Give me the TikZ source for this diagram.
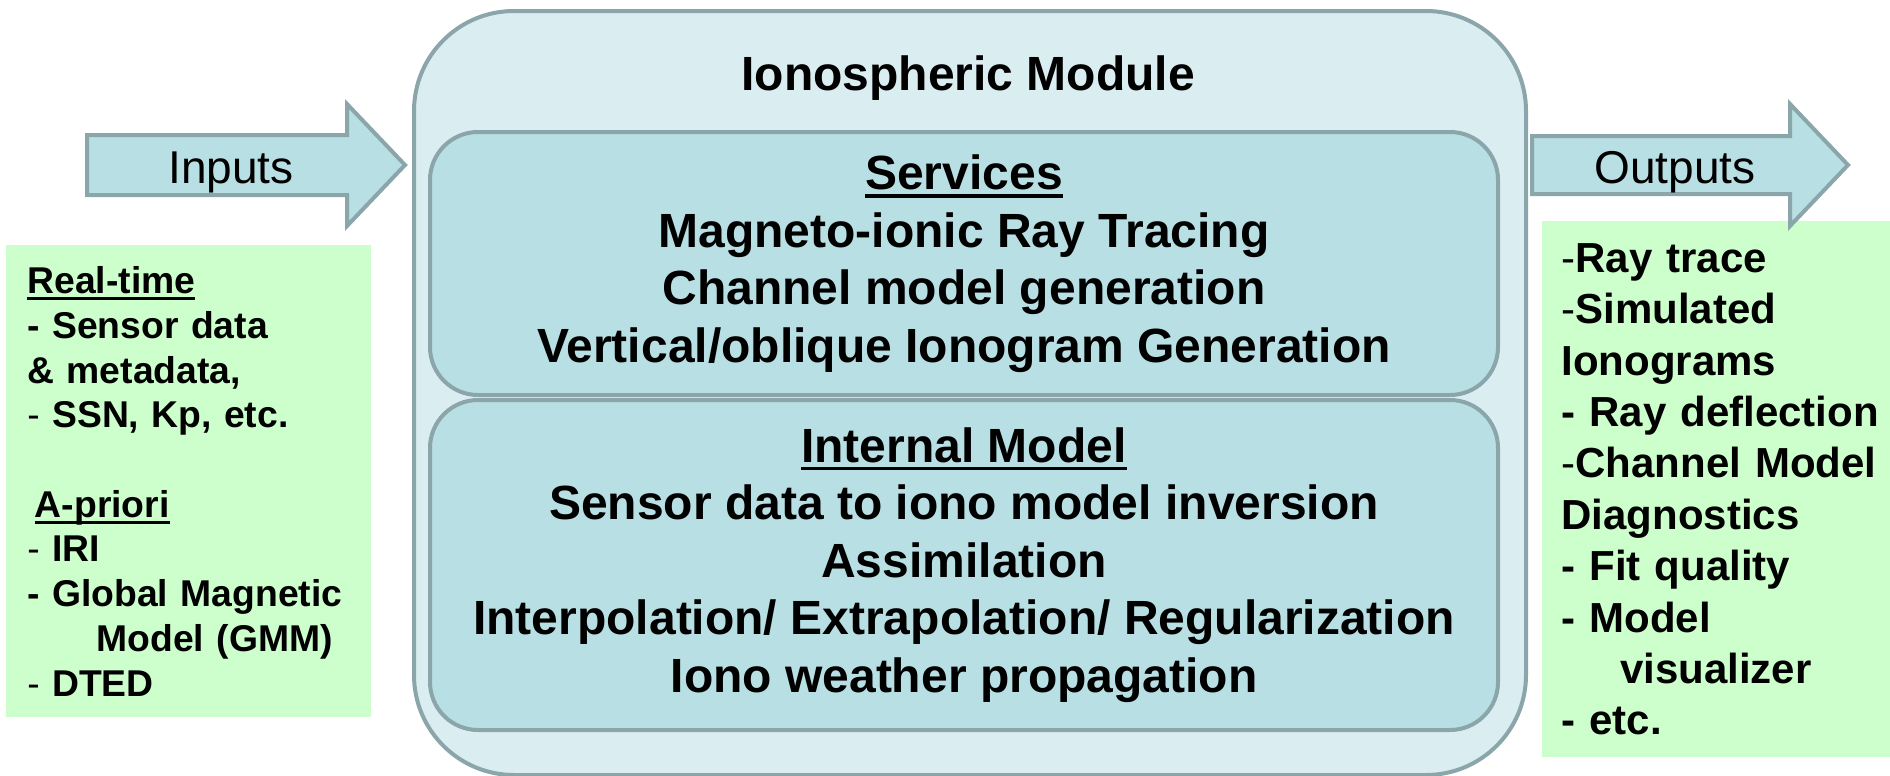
\documentclass[tikz,border=0pt]{standalone}
\usepackage{fontspec}
\setmainfont{Liberation Sans}
\usetikzlibrary{positioning}

\definecolor{edgegrey}{HTML}{8BA6AA}
\definecolor{modulefill}{HTML}{DAEDF1}
\definecolor{partfill}{HTML}{B8DFE3}
\definecolor{notegreen}{HTML}{CCFFCC}

\newcommand{\uln}[1]{\setbox0=\hbox{#1}\rlap{\vrule width \wd0 height -0.1em depth 0.17em}\box0}
\newcommand{\plaindash}{{\mdseries -}}

\tikzstyle{module} = [
    rectangle,
    rounded corners=50pt,
    line width=2pt,
    draw=edgegrey,
    fill=modulefill
]
\tikzstyle{part} = [
    rectangle,
    rounded corners=24pt,
    line width=2pt,
    draw=edgegrey,
    fill=partfill,
    align=center,
    inner sep=0pt,
    font=\fontsize{24}{28.75}\selectfont\bfseries
]
\tikzstyle{heading} = [
    inner sep=0pt,
    font=\fontsize{24}{28.75}\selectfont\bfseries
]
\tikzstyle{flow} = [
    line width=2pt,
    draw=edgegrey,
    fill=partfill,
    line join=miter
]
\tikzstyle{flowlabel} = [
    inner sep=0pt,
    font=\fontsize{23}{27}\selectfont
]
\tikzstyle{note} = [
    rectangle,
    fill=notegreen,
    align=left,
    anchor=north west
]

\begin{document}
\begin{tikzpicture}[x=0.5pt, y=-0.5pt]
\useasboundingbox (0,0) rectangle (1890,776);

% green lists
\node (inputlist) [note, text width=161.5pt, inner xsep=10.5pt, minimum height=236pt,
    font=\fontsize{18.65}{22.35}\selectfont\bfseries] at (6,245)
{\uln{Real-time}\\
- Sensor data\\
\& metadata,\\
\plaindash{} SSN, Kp, etc.\\[22.35pt]
\hspace*{0.2em}\uln{A-priori}\\
\plaindash{} IRI\\
- Global Magnetic\\
\hspace*{1.85em}Model (GMM)\\
\plaindash{} DTED};

\node (outputlist) [note, text width=160pt, inner xsep=9.5pt, minimum height=268pt,
    font=\fontsize{21}{25.7}\selectfont\bfseries] at (1542,221)
{\plaindash Ray trace\\
\plaindash Simulated\\
Ionograms\\
- Ray deflection\\
\plaindash Channel Model\\
Diagnostics\\
- Fit quality\\
- Model\\
\hspace*{1.4em}visualizer\\
- etc.};

% module
\node (module) [module, minimum width=556pt, minimum height=382pt] at (970,393) {};
\node (title) [heading, anchor=base] at (968,90) {Ionospheric Module};

\node (services) [part, minimum width=534pt, minimum height=131.5pt] at (964,263.5)
{\uln{Services}\\
Magneto-ionic Ray Tracing\\
Channel model generation\\
Vertical/oblique Ionogram Generation};

\node (internal) [part, minimum width=534pt, minimum height=165pt] at (964,565)
{\uln{Internal Model}\\
Sensor data to iono model inversion\\
Assimilation\\
Interpolation/ Extrapolation/ Regularization\\
Iono weather propagation};

% arrows
\draw [flow] (87,135) -- (347,135) -- (347,104) -- (405,165) -- (347,226)
    -- (347,195) -- (87,195) -- cycle;
\node (inputs) [flowlabel, anchor=base] at (231,183) {Inputs};

\draw [flow] (1532,136) -- (1790,136) -- (1790,104) -- (1848,165) -- (1790,226)
    -- (1790,194) -- (1532,194) -- cycle;
\node (outputs) [flowlabel, anchor=base] at (1675,183) {Outputs};

\end{tikzpicture}
\end{document}
